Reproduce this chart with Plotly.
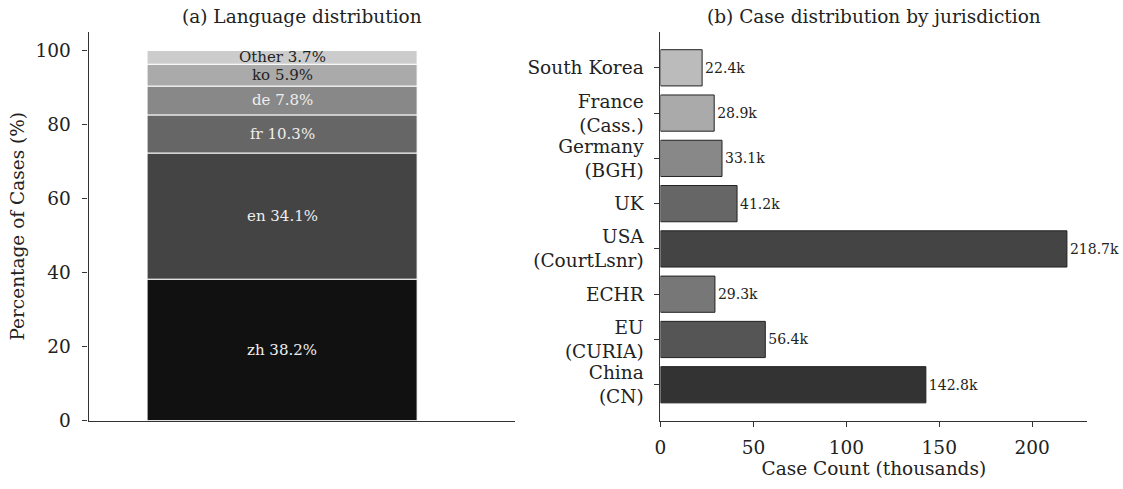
import plotly.graph_objects as go

# ---- data ----
languages = ["zh", "en", "fr", "de", "ko", "Other"]
lang_pct = [38.2, 34.1, 10.3, 7.8, 5.9, 3.7]
lang_colors = ["#111111", "#444444", "#666666", "#888888", "#aaaaaa", "#cccccc"]
lang_text_colors = ["#eeeeee", "#eeeeee", "#eeeeee", "#eeeeee", "#222222", "#222222"]

jurisdictions = ["China<br>(CN)", "EU<br>(CURIA)", "ECHR", "USA<br>(CourtLsnr)", "UK",
                 "Germany<br>(BGH)", "France<br>(Cass.)", "South Korea"]
case_counts = [142.8, 56.4, 29.3, 218.7, 41.2, 33.1, 28.9, 22.4]
jur_colors = ["#333333", "#555555", "#777777", "#444444", "#666666", "#888888", "#aaaaaa", "#bbbbbb"]

FONT = "DejaVu Serif"
AX = "#333333"
TXT = "#222222"
W, H = 1123, 489
FS = 18.5

fig = go.Figure()

# ---- left: stacked bar ----
base = 0.0
for lang, pct, col, tcol in zip(languages, lang_pct, lang_colors, lang_text_colors):
    fig.add_trace(go.Bar(
        x=[0], y=[pct], base=[base], width=[0.6], marker=dict(color=col, line=dict(color="white", width=1)),
        xaxis="x", yaxis="y", showlegend=False, hoverinfo="skip"))
    fig.add_annotation(x=0, y=base + pct / 2, xref="x", yref="y", text=f"{lang} {pct}%",
                       showarrow=False, font=dict(family=FONT, size=15, color=tcol))
    base += pct

# ---- right: horizontal bars ----
idx = list(range(len(jurisdictions)))
fig.add_trace(go.Bar(
    x=case_counts, y=idx, orientation="h", width=0.8,
    marker=dict(color=jur_colors, line=dict(color="#222222", width=1)),
    text=[f"{v:.1f}k" for v in case_counts], textposition="outside", constraintext="none",
    textfont=dict(family=FONT, size=14, color=TXT), cliponaxis=False,
    xaxis="x2", yaxis="y2", showlegend=False, hoverinfo="skip"))

ydom = [1 - 429.3 / H, 1 - 32.7 / H]
axis_common = dict(showline=True, linecolor=AX, linewidth=1.2, ticks="outside", ticklen=5,
                   tickcolor=AX, tickwidth=1.2, showgrid=False, zeroline=False,
                   tickfont=dict(family=FONT, size=FS, color=TXT))

L0, L1 = 83, 512
R0, R1 = 658, 1087

fig.update_layout(
    width=W, height=H, margin=dict(l=0, r=0, t=0, b=0),
    plot_bgcolor="white", paper_bgcolor="white", barmode="overlay",
    font=dict(family=FONT, color=TXT),
    xaxis=dict(domain=[L0 / W, L1 / W], range=[-0.43, 0.518], showline=True, linecolor=AX,
               linewidth=1.2, showticklabels=False, ticks="", showgrid=False, zeroline=False),
    yaxis=dict(domain=ydom, range=[0, 105], tickvals=[0, 20, 40, 60, 80, 100], anchor="x",
               ticklabelstandoff=8,
               title=dict(text="Percentage of Cases (%)", font=dict(family=FONT, size=FS, color=TXT),
                          standoff=5), **axis_common),
    xaxis2=dict(domain=[R0 / W, R1 / W], range=[0, 229.6], anchor="y2",
                tickvals=[0, 50, 100, 150, 200], ticklabelstandoff=5,
                title=dict(text="Case Count (thousands)", font=dict(family=FONT, size=FS, color=TXT),
                           standoff=2), **axis_common),
    yaxis2=dict(domain=ydom, range=[-0.79, 7.79], anchor="x2", tickvals=idx, ticktext=jurisdictions,
                ticklabelstandoff=7, **axis_common),
)

fig.add_annotation(x=(L0 + L1) / 2 / W, y=1 - 17 / H, xref="paper", yref="paper",
                   xanchor="center", yanchor="middle",
                   text="(a) Language distribution", showarrow=False,
                   font=dict(family=FONT, size=FS, color=TXT))
fig.add_annotation(x=(R0 + R1) / 2 / W, y=1 - 17 / H, xref="paper", yref="paper",
                   xanchor="center", yanchor="middle",
                   text="(b) Case distribution by jurisdiction", showarrow=False,
                   font=dict(family=FONT, size=FS, color=TXT))

fig.write_html("out.html", config={"displayModeBar": False},
               post_script="document.body.style.margin='0';")
